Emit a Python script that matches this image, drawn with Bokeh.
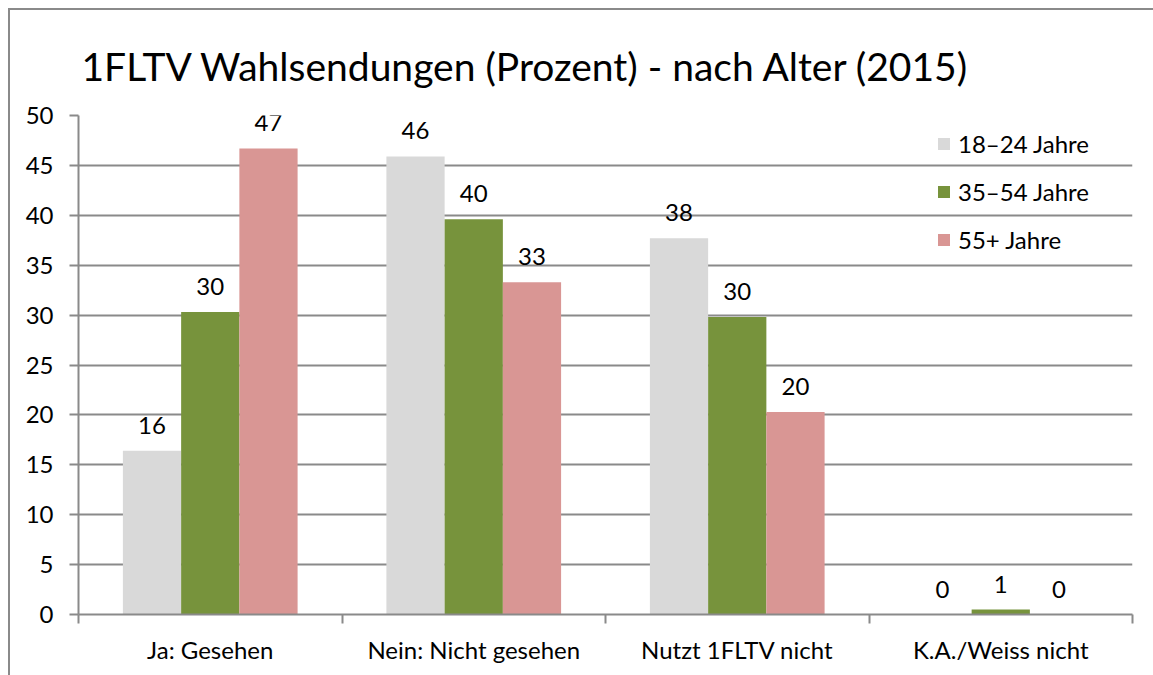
from bokeh.plotting import figure
from bokeh.models import ColumnDataSource, FixedTicker, Legend, LegendItem, LabelSet, Range1d
from bokeh.core.properties import value
from bokeh.embed import file_html
from bokeh.resources import INLINE
import numpy as np

categories = ["Ja: Gesehen", "Nein: Nicht gesehen", "Nutzt 1FLTV nicht", "K.A./Weiss nicht"]
series_names = ["18–24 Jahre", "35–54 Jahre", "55+ Jahre"]
s_18_24 = [16.4, 45.9, 37.7, 0.0]
s_35_54 = [30.3, 39.6, 29.8, 0.5]
s_55 = [46.7, 33.3, 20.3, 0.0]
labels_18_24 = ["16", "46", "38", "0"]
labels_35_54 = ["30", "40", "30", "1"]
labels_55 = ["47", "33", "20", "0"]
colors = ["#D9D9D9", "#77933C", "#D99694"]
y_ticks = [0, 5, 10, 15, 20, 25, 30, 35, 40, 45, 50]
title_text = "1FLTV Wahlsendungen (Prozent) -  nach Alter (2015)"

FONT = "Lato"
FS = "24px"
W, H = 1160, 680
p = figure(width=W, height=H, output_backend="svg", toolbar_location=None,
           x_range=Range1d(0, len(categories)), y_range=Range1d(0, 50),
           min_border_left=68, min_border_right=38, min_border_top=105, min_border_bottom=76)
p.styles = {"margin-left": "10px", "margin-top": "10px",
            "box-shadow": "-2px -2px 0 0 #8a8a8a"}
p.outline_line_color = None
p.background_fill_color = "white"
p.border_fill_color = "white"

p.title.text = title_text
p.title.text_font = FONT
p.title.text_font_size = "39px"
p.title.text_font_style = "normal"
p.title.text_color = "#000000"
p.title.offset = 3
p.title.vertical_align = "top"
p.title.standoff = 50

bw = 0.221
offsets = [-bw, 0.0, bw]
all_series = [s_18_24, s_35_54, s_55]
all_labels = [labels_18_24, labels_35_54, labels_55]
items = []
for name, vals, labs, off, col in zip(series_names, all_series, all_labels, offsets, colors):
    xs = np.arange(len(categories)) + 0.5 + off
    src = ColumnDataSource(dict(x=xs, top=vals, lab=labs))
    r = p.vbar(x="x", top="top", width=bw, source=src, fill_color=col, line_color=None)
    items.append(LegendItem(label=name, renderers=[r]))
    ls = LabelSet(x="x", y="top", text="lab", source=src, text_align="center",
                  text_baseline="bottom", y_offset=17, text_font=value(FONT),
                  text_font_size=value(FS), text_color="#000000")
    p.add_layout(ls)

# y axis
p.yaxis.ticker = FixedTicker(ticks=y_ticks)
p.yaxis.axis_line_color = "#8a8a8a"
p.yaxis.axis_line_width = 2
p.yaxis.major_tick_line_color = "#8a8a8a"
p.yaxis.major_tick_line_width = 2
p.yaxis.major_tick_out = 9
p.yaxis.major_tick_in = 0
p.yaxis.minor_tick_line_color = None
p.yaxis.major_label_text_font = FONT
p.yaxis.major_label_text_font_size = FS
p.yaxis.major_label_text_color = "#000000"
p.yaxis.major_label_standoff = 16

# x axis: labels at category centres, tick marks at boundaries
centers = [i + 0.5 for i in range(len(categories))]
bounds = [float(i) for i in range(len(categories) + 1)]
p.xaxis.ticker = FixedTicker(ticks=centers, minor_ticks=bounds)
p.xaxis.major_label_overrides = {c: cat for c, cat in zip(centers, categories)}
p.xaxis.axis_line_color = "#8a8a8a"
p.xaxis.axis_line_width = 2
p.xaxis.major_tick_line_color = None
p.xaxis.major_tick_out = 0
p.xaxis.major_tick_in = 0
p.xaxis.minor_tick_line_color = "#8a8a8a"
p.xaxis.minor_tick_line_width = 2
p.xaxis.minor_tick_out = 9
p.xaxis.minor_tick_in = 0
p.xaxis.major_label_text_font = FONT
p.xaxis.major_label_text_font_size = FS
p.xaxis.major_label_text_color = "#000000"
p.xaxis.major_label_standoff = 11

p.xgrid.grid_line_color = None
p.ygrid.ticker = FixedTicker(ticks=y_ticks)
p.ygrid.grid_line_color = "#8a8a8a"
p.ygrid.grid_line_width = 2

legend = Legend(items=items, location=(858, 360), orientation="vertical",
                glyph_width=15, glyph_height=15, label_height=24, spacing=19,
                padding=0, margin=0, label_standoff=7,
                label_text_font=FONT, label_text_font_size=FS, label_text_color="#000000",
                background_fill_alpha=0, border_line_color=None)
p.add_layout(legend)

open("out.html", "w").write(file_html(p, INLINE))
